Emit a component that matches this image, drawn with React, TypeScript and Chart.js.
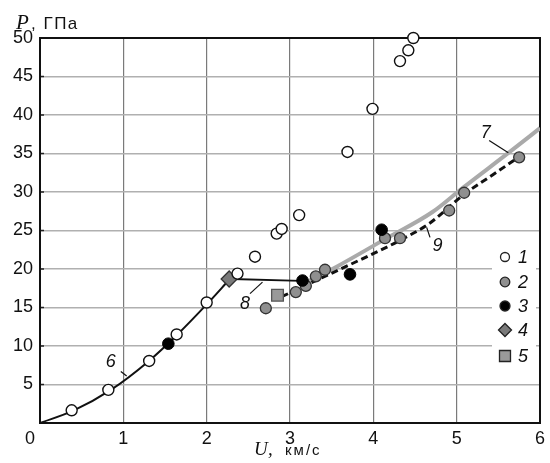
import React, { useEffect, useRef } from "react";
import { Chart, registerables } from "chart.js";

Chart.register(...registerables);

// Series 1 (open circles)
const U1 = [0.38, 0.82, 1.31, 1.64, 2.0, 2.37, 2.58, 2.84, 2.9, 3.11, 3.69, 3.99, 4.32, 4.42, 4.48];
const P1 = [1.65, 4.3, 8.06, 11.5, 15.65, 19.4, 21.6, 24.6, 25.2, 27.0, 35.2, 40.8, 47.0, 48.4, 50.0];
// Series 2 (grey circles)
const U2 = [2.71, 3.07, 3.19, 3.31, 3.42, 4.14, 4.32, 4.91, 5.09, 5.75];
const P2 = [14.9, 17.0, 17.8, 19.05, 19.9, 24.0, 24.0, 27.6, 29.9, 34.5];
// Series 3 (black circles)
const U3 = [1.54, 3.15, 3.72, 4.1];
const P3 = [10.3, 18.5, 19.3, 25.1];
// Series 4 (diamond)
const U4 = [2.27];
const P4 = [18.7];
// Series 5 (square)
const U5 = [2.85];
const P5 = [16.6];
// Curve 6
const L6_U = [0, 0.4, 0.85, 1.3, 1.65, 2.0, 2.27];
const L6_P = [0, 1.6, 4.3, 8.0, 11.5, 15.4, 18.6];
// Curve 7 (grey)
const L7_U = [3.15, 3.56, 4.12, 4.71, 5.07, 5.66, 6.0];
const L7_P = [18.0, 20.3, 23.75, 27.4, 30.5, 35.4, 38.3];
// Curve 8
const L8_U = [2.3, 3.13];
const L8_P = [18.7, 18.45];
// Curve 9 (dashed)
const L9_U = [2.9, 3.45, 3.96, 4.28, 4.67, 5.09, 5.43, 5.82];
const L9_P = [16.4, 19.2, 21.8, 23.5, 25.9, 29.7, 32.2, 35.1];

const X_TICKS = [0, 1, 2, 3, 4, 5, 6];
const Y_TICKS = [0, 5, 10, 15, 20, 25, 30, 35, 40, 45, 50];
const LEGEND_LABELS = ["1", "2", "3", "4", "5"];
const CURVE_LABELS = ["6", "7", "8", "9"];
// label position [U, P], leader from [U,P] to [U,P]
const CURVE_LABEL_POS = [
  [0.85, 7.9],
  [5.35, 37.6],
  [2.46, 15.5],
  [4.77, 23.0],
];
const CURVE_LEADERS = [
  [0.97, 6.7, 1.04, 6.1],
  [5.39, 36.7, 5.62, 35.1],
  [2.52, 16.8, 2.67, 18.3],
  [4.64, 25.4, 4.68, 24.1],
];

const pts = (u: number[], p: number[]) => u.map((v, i) => ({ x: v, y: p[i] }));

const SANS = "'Liberation Sans', Arial, sans-serif";
const SERIF = "'Liberation Serif', 'Times New Roman', serif";

const overlay = {
  id: "overlay",
  beforeDatasetsDraw(chart: any) {
    const { ctx, chartArea: a, scales } = chart;
    const y = scales.y;
    ctx.save();
    // small dark inward ticks on y axis
    ctx.strokeStyle = "#222";
    ctx.lineWidth = 1.5;
    Y_TICKS.forEach((t) => {
      const py = y.getPixelForValue(t);
      ctx.beginPath();
      ctx.moveTo(a.left, py);
      ctx.lineTo(a.left + 4, py);
      ctx.stroke();
    });
    // legend background
    ctx.fillStyle = "#fff";
    ctx.fillRect(a.right - 48, a.top + 207, 44, 125);
    // box
    ctx.strokeStyle = "#111";
    ctx.lineWidth = 2;
    ctx.strokeRect(a.left, a.top, a.right - a.left, a.bottom - a.top);
    ctx.restore();
  },
  afterDraw(chart: any) {
    const { ctx, chartArea: a, scales } = chart;
    const x = scales.x;
    const y = scales.y;
    ctx.save();

    // axis titles
    ctx.fillStyle = "#111";
    ctx.textBaseline = "alphabetic";
    ctx.textAlign = "left";
    ctx.font = `italic 21px ${SERIF}`;
    ctx.fillText("P", 16, 29);
    ctx.font = `17px ${SANS}`;
    (ctx as any).letterSpacing = "1.5px";
    ctx.fillText(", ГПа", 31, 29);
    (ctx as any).letterSpacing = "0px";

    ctx.font = `italic 19px ${SERIF}`;
    ctx.fillText("U", 254, 455);
    ctx.fillText(",", 268, 455);
    ctx.font = `15px ${SANS}`;
    (ctx as any).letterSpacing = "2px";
    ctx.fillText("км/с", 285, 455);
    (ctx as any).letterSpacing = "0px";

    // origin label
    ctx.font = `18px ${SANS}`;
    ctx.textAlign = "center";
    ctx.fillText("0", a.left - 10, a.bottom + 21);

    // curve labels
    ctx.font = `italic 18px ${SANS}`;
    ctx.textBaseline = "middle";
    CURVE_LABELS.forEach((lab, i) => {
      const [u, p] = CURVE_LABEL_POS[i];
      ctx.fillText(lab, x.getPixelForValue(u), y.getPixelForValue(p));
      const [u1, p1, u2, p2] = CURVE_LEADERS[i];
      ctx.strokeStyle = "#111";
      ctx.lineWidth = 1.2;
      ctx.beginPath();
      ctx.moveTo(x.getPixelForValue(u1), y.getPixelForValue(p1));
      ctx.lineTo(x.getPixelForValue(u2), y.getPixelForValue(p2));
      ctx.stroke();
    });

    // legend
    const rows = [219, 244, 268, 292, 318];
    const mx = a.right - 35;
    const lx = a.right - 22;
    LEGEND_LABELS.forEach((lab, i) => {
      const ry = a.top + rows[i];
      ctx.lineWidth = 1.3;
      ctx.strokeStyle = "#222";
      ctx.beginPath();
      if (i === 0) {
        ctx.fillStyle = "#fff";
        ctx.arc(mx, ry, 4.5, 0, Math.PI * 2);
      } else if (i === 1) {
        ctx.fillStyle = "#8f8f8f";
        ctx.arc(mx, ry, 4.8, 0, Math.PI * 2);
      } else if (i === 2) {
        ctx.fillStyle = "#000";
        ctx.arc(mx, ry, 5, 0, Math.PI * 2);
      } else if (i === 3) {
        ctx.fillStyle = "#7a7a7a";
        ctx.moveTo(mx, ry - 6.5);
        ctx.lineTo(mx + 6.5, ry);
        ctx.lineTo(mx, ry + 6.5);
        ctx.lineTo(mx - 6.5, ry);
        ctx.closePath();
      } else {
        ctx.fillStyle = "#999";
        ctx.rect(mx - 5.5, ry - 5.5, 11, 11);
      }
      ctx.fill();
      ctx.stroke();
      ctx.fillStyle = "#111";
      ctx.textAlign = "left";
      ctx.textBaseline = "middle";
      ctx.font = `italic 18px ${SANS}`;
      ctx.fillText(lab, lx, ry + 1);
    });
    ctx.restore();
  },
};

export default function App() {
  const ref = useRef<HTMLCanvasElement | null>(null);
  useEffect(() => {
    document.body.style.margin = "0";
    const canvas = ref.current!;
    const chart = new Chart(canvas, {
      type: "scatter",
      data: {
        datasets: [
          {
            type: "line",
            label: "6",
            data: pts(L6_U, L6_P),
            borderColor: "#111",
            borderWidth: 2,
            pointRadius: 0,
            cubicInterpolationMode: "monotone",
            order: 10,
          } as any,
          {
            type: "line",
            label: "7",
            data: pts(L7_U, L7_P),
            borderColor: "#aaaaaa",
            borderWidth: 4,
            pointRadius: 0,
            cubicInterpolationMode: "monotone",
            order: 12,
          } as any,
          {
            type: "line",
            label: "8",
            data: pts(L8_U, L8_P),
            borderColor: "#111",
            borderWidth: 1.8,
            pointRadius: 0,
            order: 10,
          } as any,
          {
            type: "line",
            label: "9",
            data: pts(L9_U, L9_P),
            borderColor: "#111",
            borderWidth: 3,
            borderDash: [7, 4],
            pointRadius: 0,
            cubicInterpolationMode: "monotone",
            order: 11,
          } as any,
          {
            label: "1",
            data: pts(U1, P1),
            pointStyle: "circle",
            pointRadius: 5.5,
            backgroundColor: "#fff",
            borderColor: "#111",
            borderWidth: 1.4,
            clip: false,
            order: 1,
          },
          {
            label: "2",
            data: pts(U2, P2),
            pointStyle: "circle",
            pointRadius: 5.5,
            backgroundColor: "#8f8f8f",
            borderColor: "#333",
            borderWidth: 1.3,
            order: 2,
          },
          {
            label: "3",
            data: pts(U3, P3),
            pointStyle: "circle",
            pointRadius: 5.8,
            backgroundColor: "#000",
            borderColor: "#000",
            borderWidth: 1,
            order: 1,
          },
          {
            label: "4",
            data: pts(U4, P4),
            pointStyle: "rectRot",
            pointRadius: 8,
            backgroundColor: "#7a7a7a",
            borderColor: "#333",
            borderWidth: 1.3,
            order: 1,
          },
          {
            label: "5",
            data: pts(U5, P5),
            pointStyle: "rect",
            pointRadius: 8.3,
            backgroundColor: "#999",
            borderColor: "#555",
            borderWidth: 1.3,
            order: 1,
          },
        ],
      },
      options: {
        responsive: false,
        animation: false,
        events: [],
        layout: { padding: { top: 38, right: 5, left: 0, bottom: 0 } },
        plugins: { legend: { display: false }, tooltip: { enabled: false } },
        scales: {
          x: {
            type: "linear",
            min: 0,
            max: 6,
            afterBuildTicks: (s: any) => {
              s.ticks = X_TICKS.map((v) => ({ value: v }));
            },
            afterFit: (s: any) => {
              s.height = 40;
            },
            grid: { color: "#7a7a7a", lineWidth: 1.2, drawTicks: false },
            border: { color: "#111", width: 2 },
            ticks: {
              padding: 5,
              color: "#111",
              font: { family: SANS, size: 18 },
              callback: (v: any) => (v === 0 ? "" : String(v)),
            },
          },
          y: {
            type: "linear",
            min: 0,
            max: 50,
            afterBuildTicks: (s: any) => {
              s.ticks = Y_TICKS.map((v) => ({ value: v }));
            },
            afterFit: (s: any) => {
              s.width = 40;
            },
            grid: { color: "#b0b0b0", lineWidth: 1.5, drawTicks: false },
            border: { color: "#111", width: 2 },
            ticks: {
              padding: 7,
              color: "#111",
              font: { family: SANS, size: 18 },
              callback: (v: any) => (v === 0 ? "" : String(v)),
            },
          },
        },
      },
      plugins: [overlay],
    } as any);
    return () => chart.destroy();
  }, []);
  return (
    <div style={{ position: "absolute", left: 0, top: 0, width: 550, height: 463 }}>
      <canvas ref={ref} width={550} height={463} style={{ width: 550, height: 463 }} />
    </div>
  );
}
